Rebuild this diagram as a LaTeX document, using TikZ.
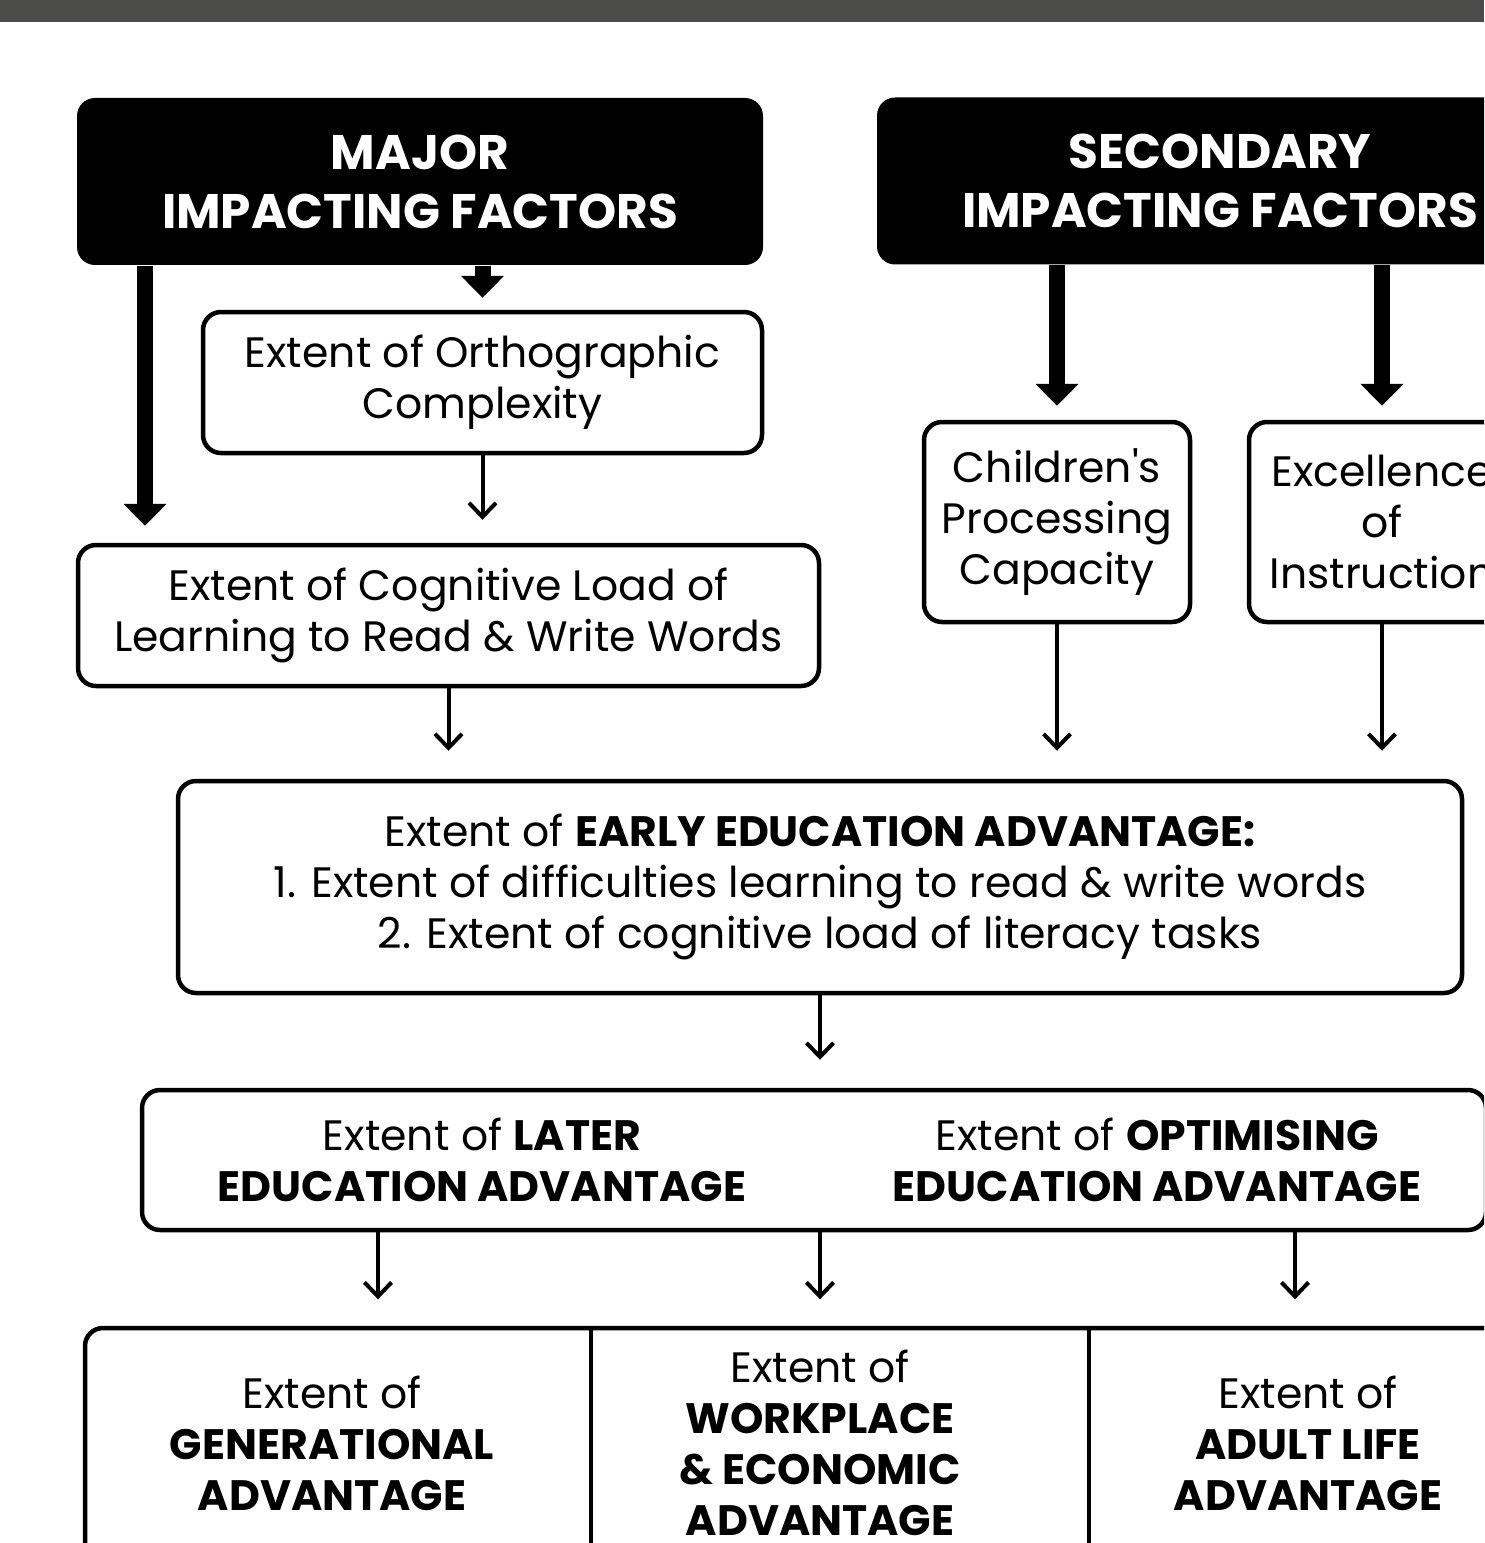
\documentclass[tikz,border=0pt]{standalone}
\usepackage{fontspec}
\setmainfont{Poppins}[Ligatures=TeXOff]
\usetikzlibrary{arrows.meta}
\usetikzlibrary{positioning}

\definecolor{barcol}{HTML}{4B4B4A}
\newcommand{\diagfont}{\fontsize{12.1}{14.5}\selectfont}
\newcommand{\diaghead}{\fontsize{13.8}{16.8}\selectfont\bfseries}

\begin{document}
\begin{tikzpicture}[x=0.1mm,y=-0.1mm,
    box/.style={draw,line width=0.45mm,rounded corners=1.8mm,align=center,font=\diagfont},
    headbox/.style={fill=black,rounded corners=1.8mm,text=white,align=center,font=\diaghead,
      minimum width=68.6mm,minimum height=16.7mm},
    txt/.style={align=center,font=\diagfont},
    bigarrow/.style={line width=1.6mm,-{Triangle[width=4.2mm,length=2.2mm]},shorten >=1.4mm},
    smallarrow/.style={line width=0.4mm,-{Straight Barb[width=2.7mm,length=1.4mm]},shorten >=2.8mm}]

    \useasboundingbox (0,0) rectangle (1484,1543);
    \clip (0,0) rectangle (1484,1543);

    % top bar
    \fill[barcol] (0,0) rectangle (1484,22);

    % header boxes
    \node[headbox] (major) at (420,181.5) {MAJOR\\IMPACTING FACTORS};
    \node[headbox] (second) at (1220,181) {SECONDARY\\IMPACTING FACTORS};

    % factor boxes
    \node[box,minimum width=55.9mm,minimum height=14.1mm] (ortho) at (482.5,382.5)
      {Extent of Orthographic\\Complexity};
    \node[box,minimum width=74.1mm,minimum height=14.1mm] (cogload) at (448.5,615.5)
      {Extent of Cognitive Load of\\Learning to Read \& Write Words};
    \node[box,minimum width=26.6mm,minimum height=20mm] (proc) at (1057,522)
      {Children's\\Processing\\Capacity};
    \node[box,minimum width=26.6mm,minimum height=20mm] (excel) at (1382,522)
      {Excellence\\of\\Instruction};

    % early education
    \node[box,minimum width=128.4mm,minimum height=21.2mm] (early) at (820,887)
      {Extent of \textbf{EARLY EDUCATION ADVANTAGE:}\\
       1. Extent of difficulties learning to read \& write words\\
       2. Extent of cognitive load of literacy tasks};

    % later education
    \node[box,minimum width=134.4mm,minimum height=14mm] (later) at (814,1160) {};
    \node[txt] (latertxt) at (482,1160) {Extent of \textbf{LATER}\\\textbf{EDUCATION ADVANTAGE}};
    \node[txt] (opttxt) at (1157,1160) {Extent of \textbf{OPTIMISING}\\\textbf{EDUCATION ADVANTAGE}};

    % outcome cells
    \draw[line width=0.45mm,rounded corners=1.8mm] (85,1700) |- (1700,1328);
    \draw[line width=0.45mm] (591,1328) -- (591,1600);
    \draw[line width=0.45mm] (1089,1328) -- (1089,1600);
    \node[txt,minimum height=23mm] (gen) at (332,1443)
      {Extent of\\\textbf{GENERATIONAL}\\\textbf{ADVANTAGE}};
    \node[txt,minimum height=23mm] (work) at (820,1443)
      {Extent of\\\textbf{WORKPLACE}\\\textbf{\& ECONOMIC}\\\textbf{ADVANTAGE}};
    \node[txt,minimum height=23mm] (adult) at (1308,1443)
      {Extent of\\\textbf{ADULT LIFE}\\\textbf{ADVANTAGE}};

    % thick arrows
    \draw[bigarrow,shorten >=1.7mm] (major.south -| 145,0) -- (cogload.north -| 145,0);
    \draw[bigarrow,shorten >=1.2mm] (major.south -| ortho.north) -- (ortho.north);
    \draw[bigarrow] (second.south -| proc.north) -- (proc.north);
    \draw[bigarrow] (second.south -| excel.north) -- (excel.north);

    % thin arrows
    \draw[smallarrow,shorten >=2.3mm] (ortho.south) -- (cogload.north -| ortho.south);
    \draw[smallarrow] (cogload.south) -- (early.north -| cogload.south);
    \draw[smallarrow] (proc.south) -- (early.north -| proc.south);
    \draw[smallarrow] (excel.south) -- (early.north -| excel.south);
    \draw[smallarrow] (early.south) -- (later.north -| early.south);
    \draw[smallarrow] (later.south -| 378,0) -- (gen.north -| 378,0);
    \draw[smallarrow] (later.south -| work.north) -- (work.north);
    \draw[smallarrow] (later.south -| 1295,0) -- (adult.north -| 1295,0);
\end{tikzpicture}
\end{document}
